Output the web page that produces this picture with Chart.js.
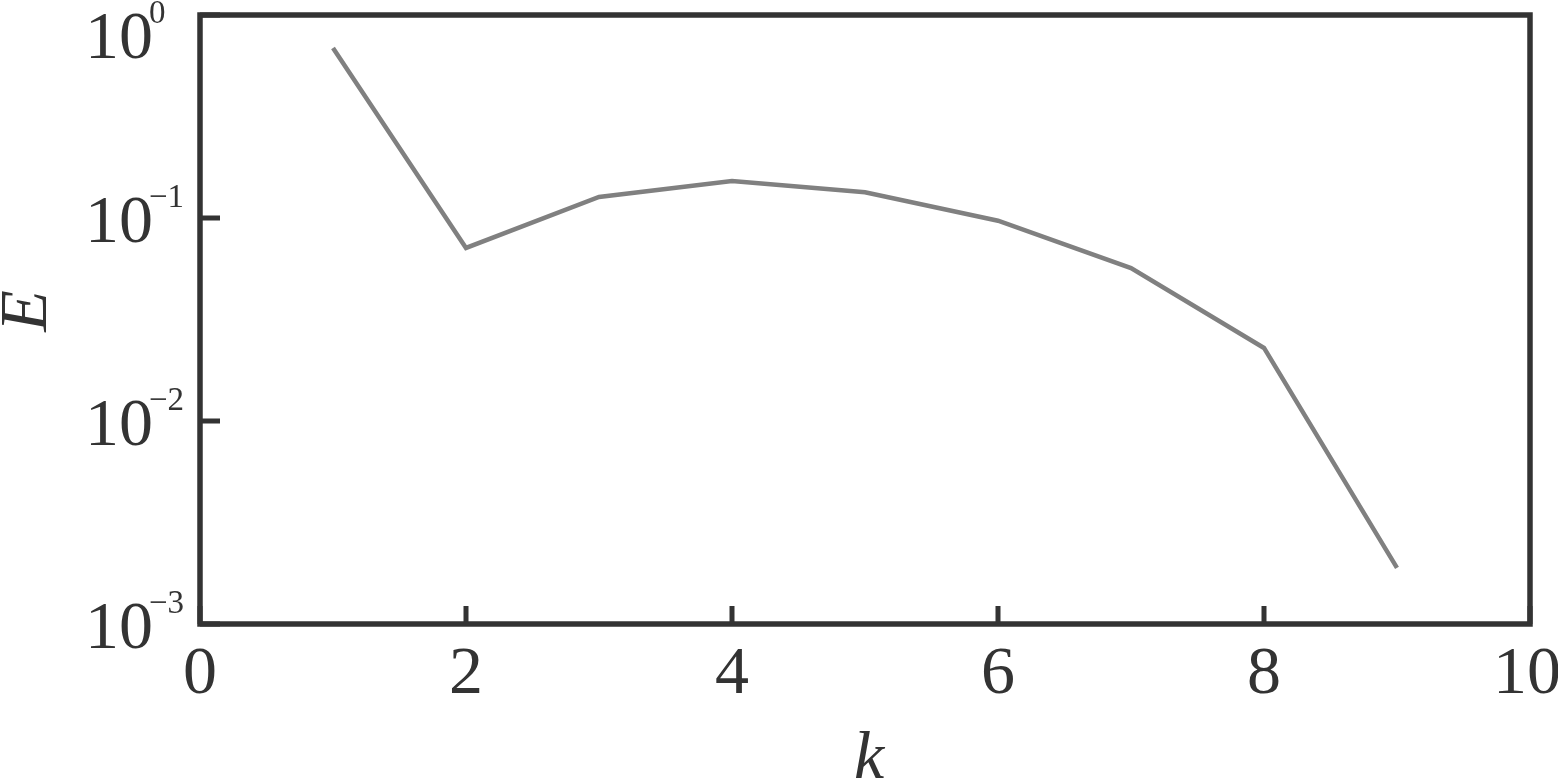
<!DOCTYPE html>
<html>
<head>
<meta charset="utf-8">
<script src="https://cdn.jsdelivr.net/npm/chart.js@4"></script>
<style>
  html, body { margin: 0; padding: 0; background: #fff; }
  #wrap { width: 1558px; height: 779px; }
</style>
</head>
<body>
<div id="wrap"><canvas id="myChart"></canvas></div>
<script>
var kValues = [1, 2, 3, 4, 5, 6, 7, 8, 9];
var eValues = [0.688, 0.0712, 0.127, 0.152, 0.134, 0.097, 0.0567, 0.0229, 0.00189];
var xTicks = [0, 2, 4, 6, 8, 10];
var yExps = [0, -1, -2, -3];

var ink = "#333333";
var serif = "'Liberation Serif', 'DejaVu Serif', serif";

// frame, inward ticks and tick labels drawn with the scales' own positions
var framePlugin = {
  id: "frame",
  afterDraw: function (chart) {
    var ctx = chart.ctx, a = chart.chartArea;
    var xs = chart.scales.x, ys = chart.scales.y;
    ctx.save();
    ctx.strokeStyle = ink;
    ctx.lineWidth = 5.5;
    ctx.strokeRect(a.left, a.top, a.right - a.left, a.bottom - a.top);

    ctx.lineWidth = 5;
    ctx.beginPath();
    xTicks.forEach(function (t) {
      var px = xs.getPixelForValue(t);
      ctx.moveTo(px, a.bottom);
      ctx.lineTo(px, a.bottom - 18);
    });
    yExps.forEach(function (e) {
      var py = ys.getPixelForValue(Math.pow(10, e));
      ctx.moveTo(a.left, py);
      ctx.lineTo(a.left + 20, py);
    });
    ctx.stroke();

    ctx.fillStyle = ink;
    ctx.textBaseline = "alphabetic";
    ctx.font = "68px " + serif;
    ctx.textAlign = "center";
    xTicks.forEach(function (t) {
      ctx.fillText(String(t), xs.getPixelForValue(t) - (t === 10 ? 3 : 0), 693);
    });

    yExps.forEach(function (e) {
      // top label sits a little lower so it stays inside the page
      var py = Math.max(ys.getPixelForValue(Math.pow(10, e)), 33.5);
      ctx.textAlign = "left";
      ctx.font = "68px " + serif;
      ctx.fillText("10", 85, py + 24);
      ctx.font = "33px " + serif;
      ctx.fillText(e < 0 ? "\u2212" + (-e) : String(e), 149, py - 11);
    });

    ctx.font = "italic 68px " + serif;
    ctx.textAlign = "center";
    ctx.fillText("k", 869, 778);
    ctx.translate(46, 311);
    ctx.rotate(-Math.PI / 2);
    ctx.fillText("E", 0, 0);
    ctx.restore();
  }
};

new Chart("myChart", {
  type: "line",
  data: {
    datasets: [{
      data: kValues.map(function (k, i) { return {x: k, y: eValues[i]}; }),
      borderColor: "#808080",
      borderWidth: 4.5,
      pointRadius: 0,
      tension: 0,
      fill: false
    }]
  },
  options: {
    responsive: true,
    maintainAspectRatio: false,
    animation: false,
    layout: {padding: {top: 15, right: 28, left: 0, bottom: 0}},
    plugins: {legend: {display: false}, tooltip: {enabled: false}},
    scales: {
      x: {
        type: "linear",
        min: 0,
        max: 10,
        grid: {display: false},
        border: {display: false},
        ticks: {display: false},
        afterFit: function (s) { s.height = 155; }
      },
      y: {
        type: "logarithmic",
        min: 0.001,
        max: 1,
        grid: {display: false},
        border: {display: false},
        ticks: {display: false},
        afterFit: function (s) { s.width = 200; }
      }
    }
  },
  plugins: [framePlugin]
});
</script>
</body>
</html>
